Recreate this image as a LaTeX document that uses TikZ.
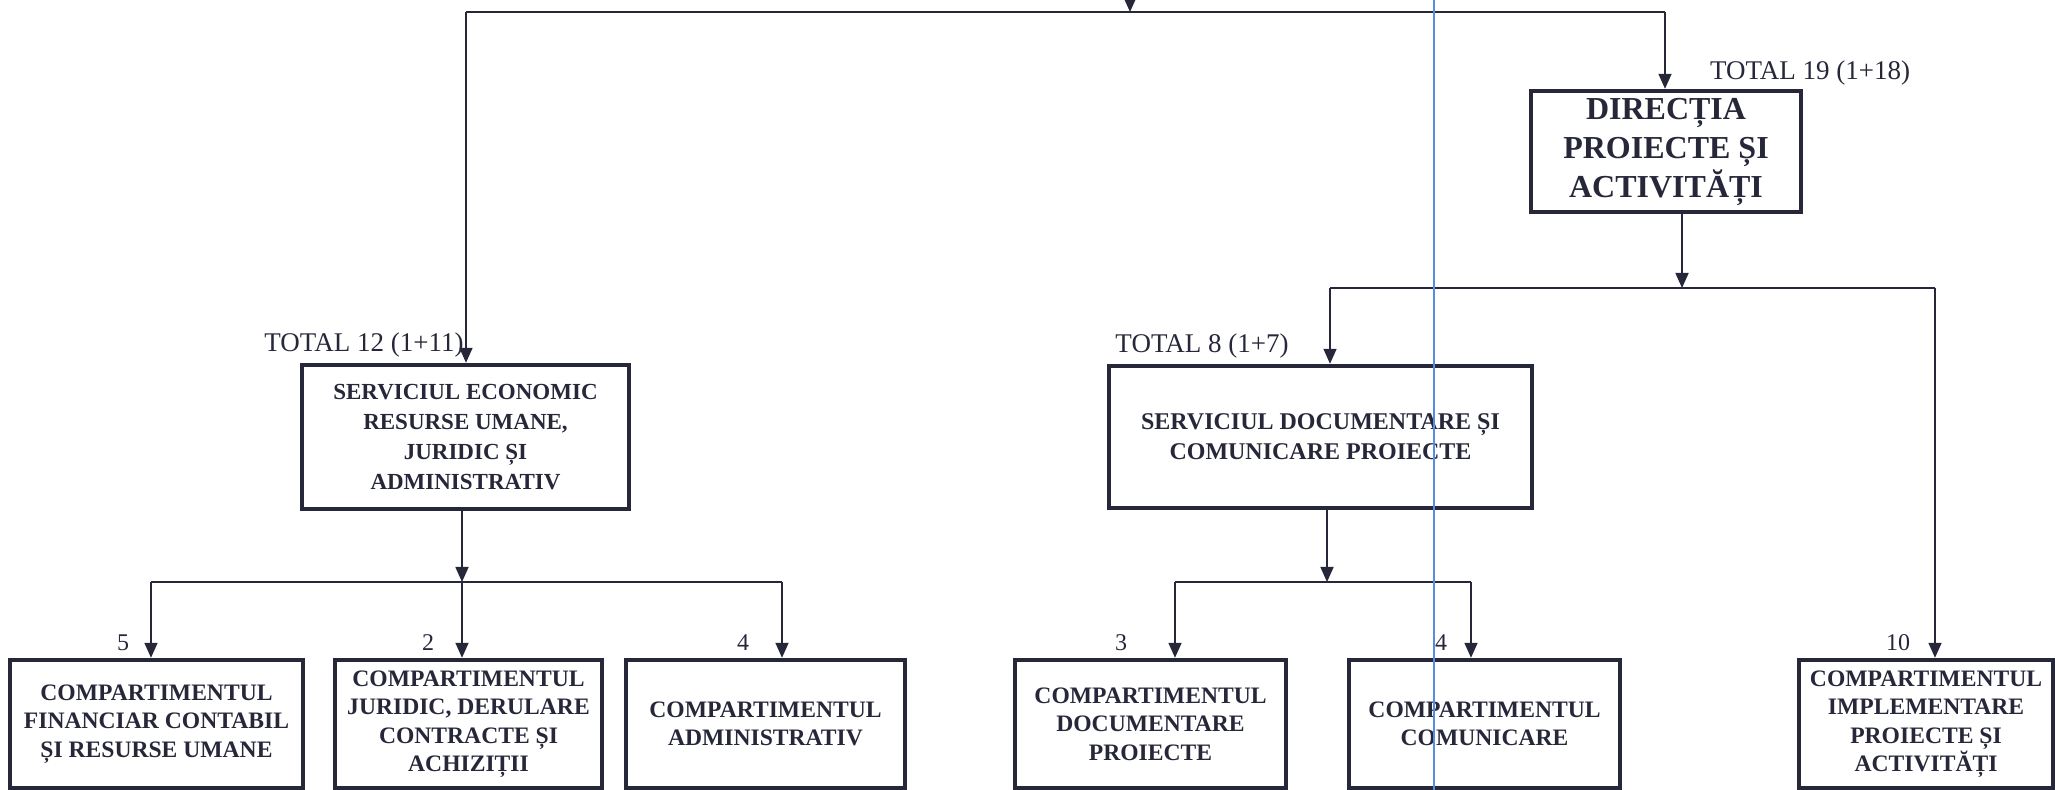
\documentclass[tikz,border=0pt]{standalone}
\usepackage{fontspec}
\setmainfont{Liberation Serif}
\usetikzlibrary{arrows.meta,calc}
\definecolor{ink}{HTML}{26283A}
\definecolor{scanblue}{HTML}{5B8BE0}
\begin{document}
\begin{tikzpicture}[x=0.5pt,y=-0.5pt,
  box/.style={draw=ink, line width=2.2pt, inner sep=0pt, align=center, text=ink},
  bfont/.style={font=\fontsize{11.8}{14.2}\selectfont\bfseries},
  conn/.style={draw=ink, line width=0.8pt, -{Triangle[length=7.5pt,width=6.5pt]}},
  bar/.style={draw=ink, line width=1.1pt},
  lbl/.style={text=ink, inner sep=0pt, font=\fontsize{13.5}{15}\selectfont},
  num/.style={text=ink, inner sep=0pt, font=\fontsize{12}{14}\selectfont}]
\fill[white] (0,0) rectangle (2055,790);
\useasboundingbox (0,0) rectangle (2055,790);

% boxes
\node[box, minimum width=135pt, minimum height=60.5pt, font=\fontsize{16}{19.5}\selectfont\bfseries] (dir) at (1666,151.5) {DIRECȚIA\\PROIECTE ȘI\\ACTIVITĂȚI};
\node[box, minimum width=163.5pt, minimum height=72pt, font=\fontsize{11.5}{15}\selectfont\bfseries] (se) at (465.5,437) {SERVICIUL ECONOMIC\\RESURSE UMANE,\\JURIDIC ȘI\\ADMINISTRATIV};
\node[box, minimum width=211.5pt, minimum height=71pt, font=\fontsize{12}{15}\selectfont\bfseries] (sd) at (1320.5,437) {SERVICIUL DOCUMENTARE ȘI\\COMUNICARE PROIECTE};
\node[box, bfont, minimum width=146.5pt, minimum height=64pt] (fin) at (156.5,724) {COMPARTIMENTUL\\FINANCIAR CONTABIL\\ȘI RESURSE UMANE};
\node[box, bfont, minimum width=133.5pt, minimum height=64pt] (jur) at (468.5,724) {COMPARTIMENTUL\\JURIDIC, DERULARE\\CONTRACTE ȘI\\ACHIZIȚII};
\node[box, bfont, minimum width=139.5pt, minimum height=64pt] (adm) at (765.5,724) {COMPARTIMENTUL\\ADMINISTRATIV};
\node[box, bfont, minimum width=135.5pt, minimum height=64pt] (doc) at (1150.5,724) {COMPARTIMENTUL\\DOCUMENTARE\\PROIECTE};
\node[box, bfont, minimum width=135.5pt, minimum height=64pt] (com) at (1484.5,724) {COMPARTIMENTUL\\COMUNICARE};
\node[box, bfont, minimum width=127pt, minimum height=64pt] (imp) at (1926,724) {COMPARTIMENTUL\\IMPLEMENTARE\\PROIECTE ȘI\\ACTIVITĂȚI};

% labels
\node[lbl] (t12) at (364,345) {TOTAL 12 (1+11)};
\node[lbl] (t8) at (1202,346) {TOTAL 8 (1+7)};
\node[lbl] (t19) at (1810,73) {TOTAL 19 (1+18)};
\node[num] (n5) at (123,643) {5};
\node[num] (n2) at (428,643) {2};
\node[num] (n4a) at (743,643) {4};
\node[num] (n3) at (1121,643) {3};
\node[num] (n4b) at (1441,643) {4};
\node[num] (n10) at (1898,643) {10};

% junction coordinates
\coordinate (topin) at (1130,-4);
\coordinate (j0) at (1130,12);
\coordinate (j0L) at (466,12);
\coordinate (j0R) at (1665,12);
\coordinate (j1) at (1682,288);
\coordinate (j1L) at (1330,288);
\coordinate (j1R) at (1935,288);
\coordinate (j2) at (1327,582);
\coordinate (j2L) at (1175,582);
\coordinate (j2R) at (1471,582);
\coordinate (j3) at (462,582);
\coordinate (j3L) at (151,582);
\coordinate (j3R) at (782,582);

% top level
\draw[bar] (j0L) -- (j0R);
\draw[conn] (topin) -- (j0);
\draw[conn] (j0L) -- (j0L |- se.north);
\draw[conn] (j0R) -- (j0R |- dir.north);

% directia branch
\draw[conn] (j1 |- dir.south) -- (j1);
\draw[bar] (j1L) -- (j1R);
\draw[conn] (j1L) -- (j1L |- sd.north);
\draw[conn] (j1R) -- (j1R |- imp.north);

% serviciul documentare branch
\draw[conn] (j2 |- sd.south) -- (j2);
\draw[bar] (j2L) -- (j2R);
\draw[conn] (j2L) -- (j2L |- doc.north);
\draw[conn] (j2R) -- (j2R |- com.north);

% serviciul economic branch
\draw[conn] (j3 |- se.south) -- (j3);
\draw[bar] (j3L) -- (j3R);
\draw[conn] (j3L) -- (j3L |- fin.north);
\draw[conn] (j3) -- (j3 |- jur.north);
\draw[conn] (j3R) -- (j3R |- adm.north);

% scan guide line
\coordinate (bt) at (1434,0);
\coordinate (bb) at (1434,790);
\draw[scanblue, line width=0.7pt] (bt) -- (bb);
\end{tikzpicture}
\end{document}
